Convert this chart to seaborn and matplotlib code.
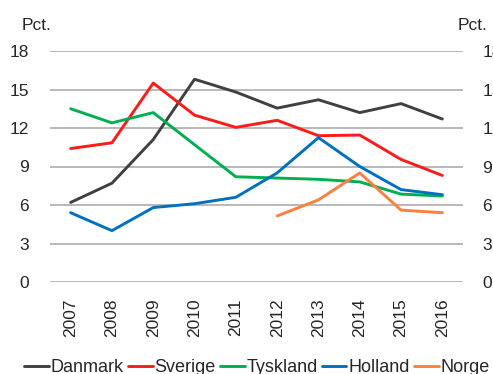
import matplotlib
matplotlib.use("Agg")
import matplotlib.pyplot as plt
import seaborn as sns
import pandas as pd

years = [2007, 2008, 2009, 2010, 2011, 2012, 2013, 2014, 2015, 2016]
danmark = [6.2, 7.7, 11.1, 15.8, 14.8, 13.55, 14.2, 13.2, 13.9, 12.7]
sverige = [10.4, 10.85, 15.5, 13.0, 12.05, 12.6, 11.4, 11.45, 9.55, 8.3]
tyskland = [13.5, 12.4, 13.2, 10.7, 8.2, 8.1, 8.0, 7.8, 6.85, 6.7]
holland = [5.4, 4.0, 5.8, 6.1, 6.6, 8.5, 11.25, 9.0, 7.2, 6.8]
norge_years = [2012, 2013, 2014, 2015, 2016]
norge = [5.15, 6.4, 8.5, 5.6, 5.4]
yticks = [0, 3, 6, 9, 12, 15, 18]

countries = ["Danmark", "Sverige", "Tyskland", "Holland", "Norge"]
colors = {"Danmark": "#404040", "Sverige": "#ff1a1a", "Tyskland": "#00b050",
          "Holland": "#0070c0", "Norge": "#ff7f3f"}

rows = []
for name, xs, vals in [("Danmark", years, danmark), ("Sverige", years, sverige),
                       ("Tyskland", years, tyskland), ("Holland", years, holland),
                       ("Norge", norge_years, norge)]:
    for x, v in zip(xs, vals):
        rows.append({"År": x, "Pct": v, "Land": name})
df = pd.DataFrame(rows)

sns.set_theme(style="white")
plt.rcParams["font.family"] = ["Liberation Sans", "DejaVu Sans"]
plt.rcParams["font.size"] = 12

fig = plt.figure(figsize=(4.93, 3.74), dpi=100)
ax = fig.add_axes([50/493, 1-282/374, (463-50)/493, (282-51)/374])

for y in yticks:
    ax.axhline(y, color="#a6a6a6", lw=1.1, zorder=0)

sns.lineplot(data=df, x="År", y="Pct", hue="Land", hue_order=countries,
             palette=colors, linewidth=2.1, ax=ax, legend=True)

ax.set_xlim(2006.5, 2016.5)
ax.set_ylim(0, 18)
ax.set_yticks(yticks)
ax.set_xticks(years)
ax.set_xticklabels([str(y) for y in years], rotation=90, fontsize=12.5)
ax.set_yticklabels([str(y) for y in yticks], fontsize=12.5)
ax.tick_params(axis="both", length=0)
ax.tick_params(axis="y", pad=15)
ax.tick_params(axis="x", pad=12)
ax.set_xlabel("")
ax.set_ylabel("")
for s in ax.spines.values():
    s.set_visible(False)

ax2 = ax.twinx()
ax2.set_ylim(0, 18)
ax2.set_yticks(yticks)
ax2.set_yticklabels([str(y) for y in yticks], fontsize=12.5)
ax2.tick_params(axis="y", length=0, pad=14)
for s in ax2.spines.values():
    s.set_visible(False)

fig.text(22/493, 1-25/374, "Pct.", ha="left", va="center", fontsize=12.5)
fig.text(458/493, 1-25/374, "Pct.", ha="left", va="center", fontsize=12.5)

handles, labels = ax.get_legend_handles_labels()
ax.get_legend().remove()
fig.legend(handles, labels, loc="center", bbox_to_anchor=(257/493, 1-368/374),
           ncol=5, frameon=False, handlelength=1.35, handletextpad=0.1,
           columnspacing=0.25, fontsize=13, borderaxespad=0, borderpad=0)

fig.savefig("out.png", dpi=100)
